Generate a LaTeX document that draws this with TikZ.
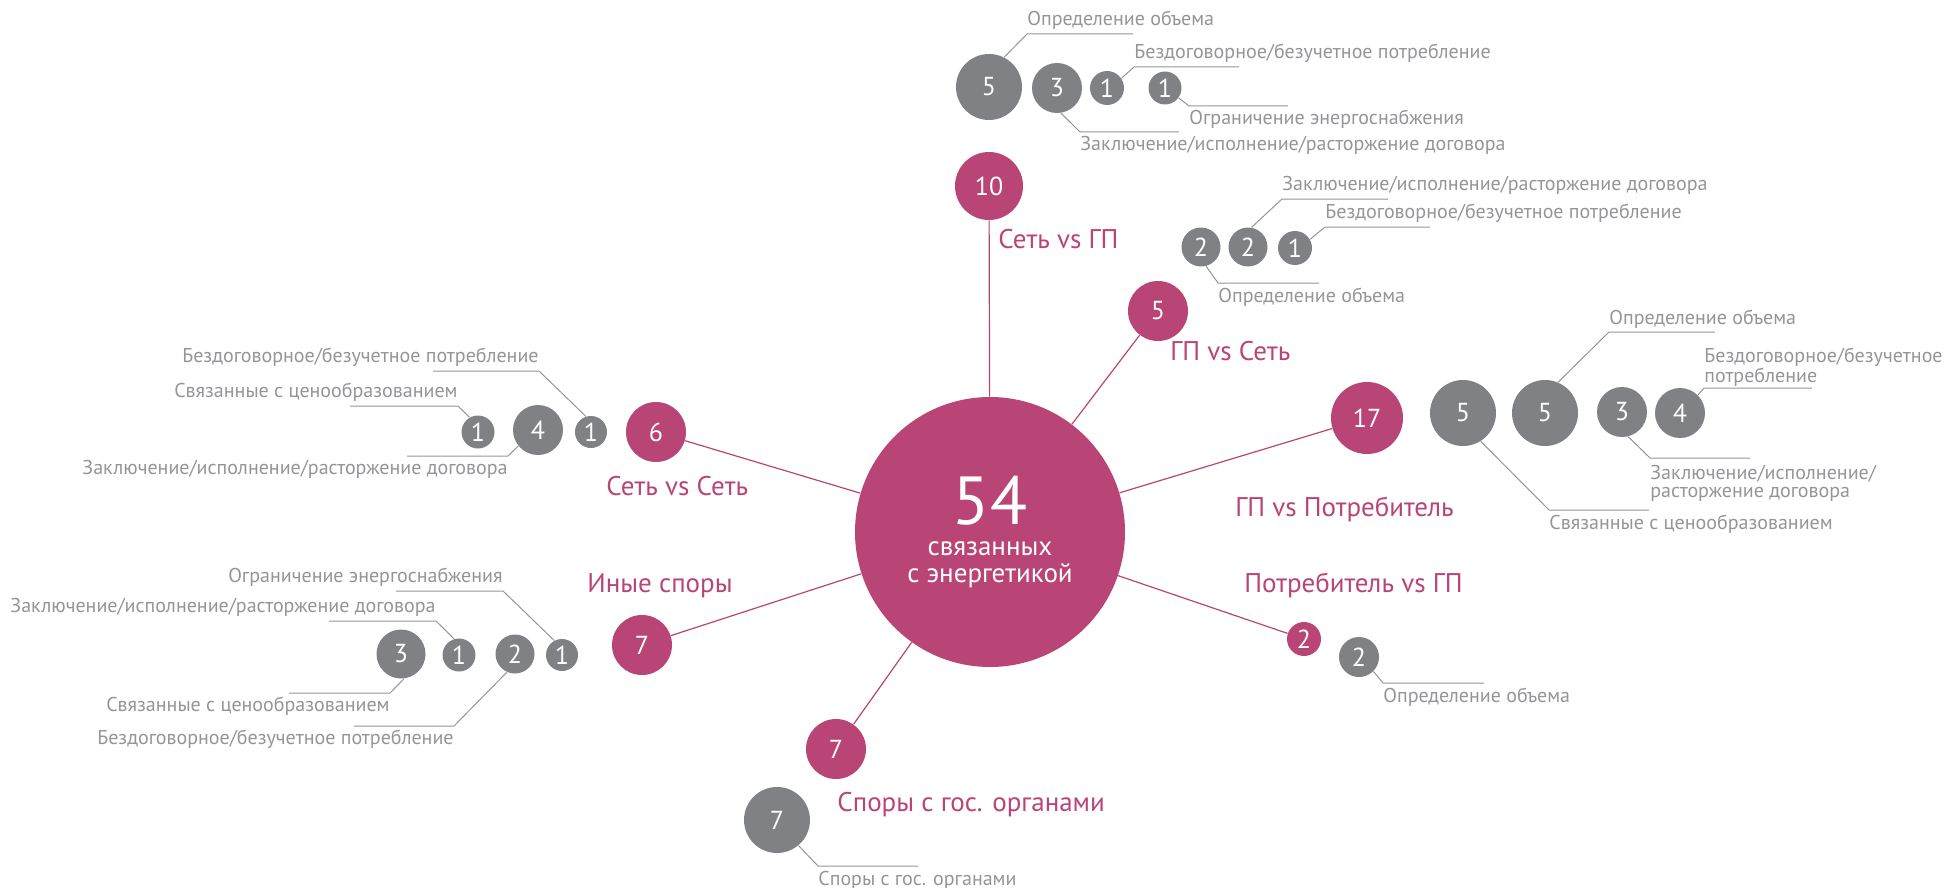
\documentclass[tikz,border=0pt]{standalone}
\usepackage{fontspec}
\setmainfont{PT Sans}
\usetikzlibrary{positioning}
\usetikzlibrary{calc}
\definecolor{rose}{HTML}{B94476}
\definecolor{slate}{HTML}{808184}
\definecolor{mist}{HTML}{939598}
\newcommand{\callout}[7]{%
  \path (#3,#4) coordinate (#1k) ++(#5,0) coordinate (#1e);
  \draw[leader] (#1.#2) -- (#1k) -- (#1e);
  \node[#6] (#1t) at (#1k) {#7};}
\tikzset{
    hub/.style = {circle,fill=rose,text=white,inner sep=0pt,minimum size=135pt,align=center,font=\fontsize{13.5}{11.25}\selectfont},
    topic/.style = {circle,fill=rose,text=white,inner sep=0pt,minimum size=#1,font=\fontsize{13}{13}\selectfont},
    part/.style = {circle,fill=slate,text=white,inner sep=0pt,minimum size=#1,font=\fontsize{13}{13}\selectfont},
    spoke/.style = {draw=rose,line width=0.6pt},
    leader/.style = {draw=mist,line width=0.5pt},
    caption/.style = {text=rose,inner sep=0pt,anchor=base west,font=\fontsize{13.5}{13.5}\selectfont},
    note/.style = {text=mist,inner sep=0pt,font=\fontsize{10}{8.7}\selectfont},
    noteup/.style = {note,anchor=base west,yshift=4pt},
    notedown/.style = {note,anchor=base west,yshift=-9.5pt},
    noteupl/.style = {note,anchor=base east,yshift=4.5pt},
    notedownl/.style = {note,anchor=base east,yshift=-9.25pt},
    noteuptwo/.style = {note,align=left,anchor=south west,yshift=0.5pt},
    notedowntwo/.style = {note,align=left,anchor=north west,yshift=-3.5pt}}
\begin{document}
\begin{tikzpicture}[x=0.5pt,y=-0.5pt]
    \useasboundingbox (0,0) rectangle (1944,888);
    % hub and topics
    \path (990,532) node[hub] (hub) {{\fontsize{34}{34}\selectfont 54}\\[4.5pt] связанных\\[2pt] с энергетикой};
    \path (989,186) node[topic=34pt] (t10) {10}
        (1158,311) node[topic=30pt] (t5) {5}
        (1367,418) node[topic=36pt] (t17) {17}
        (1304,639) node[topic=17pt] (t2) {2}
        (836,749) node[topic=30pt] (t7b) {7}
        (642,645) node[topic=30pt] (t7a) {7}
        (656,432) node[topic=30pt] (t6) {6};
    \foreach \t in {t10,t5,t17,t2,t7b,t7a,t6}
        \draw[spoke] (hub) -- (\t);
    \node[caption] (c10) at (998,249) {Сеть vs ГП};
    \node[caption] (c5) at (1170,360) {ГП vs Сеть};
    \node[caption] (c17) at (1235,516) {ГП vs Потребитель};
    \node[caption] (c2) at (1244,592) {Потребитель vs ГП};
    \node[caption] (c7b) at (837,811) {Споры с гос. органами};
    \node[caption] (c7a) at (587,592) {Иные споры};
    \node[caption] (c6) at (606,495) {Сеть vs Сеть};
    % parts
    \path (989,87) node[part=33pt] (a5) {5}
        (1057,88) node[part=25pt] (a3) {3}
        (1107,88) node[part=17pt] (a1) {1}
        (1165,88) node[part=16.5pt] (b1) {1};
    \path (1201,247) node[part=19.5pt] (c2) {2}
        (1248,247) node[part=19.5pt] (d2) {2}
        (1295,248) node[part=17pt] (d1) {1};
    \path (1463,413) node[part=33pt] (e5) {5}
        (1545,413) node[part=33pt] (f5) {5}
        (1622,412) node[part=25pt] (f3) {3}
        (1680,413) node[part=25pt] (f4) {4};
    \path (1359,657) node[part=20pt] (g2) {2};
    \path (777,820) node[part=33pt] (h7) {7};
    \path (591,432) node[part=16pt] (i1) {1}
        (538,430) node[part=25pt] (i4) {4}
        (478,432) node[part=16.5pt] (j1) {1};
    \path (562,655) node[part=16pt] (k1) {1}
        (515,654) node[part=19.5pt] (k2) {2}
        (459,655) node[part=16.5pt] (l1) {1}
        (401,654) node[part=24.5pt] (l3) {3};
    % callouts
    \callout{a5}{63}{1027}{34}{106}{noteup}{Определение объема}
    \callout{a3}{-81}{1080}{132}{99}{notedown}{Заключение/исполнение/расторжение договора}
    \callout{a1}{34}{1134}{67}{105}{noteup}{Бездоговорное/безучетное потребление}
    \callout{b1}{-36}{1189}{106}{99}{notedown}{Ограничение энергоснабжения}
    \callout{c2}{-75}{1218}{283}{101}{notedown}{Определение объема}
    \callout{d2}{80}{1282}{199}{106}{noteup}{Заключение/исполнение/расторжение договора}
    \callout{d1}{30}{1325}{227}{105}{noteup}{Бездоговорное/безучетное потребление}
    \callout{e5}{-58}{1549}{510}{100}{notedown}{Связанные с ценообразованием}
    \callout{f5}{67}{1609}{332}{106}{noteup}{Определение объема}
    \callout{f3}{-76}{1650}{458}{100}{notedowntwo}{Заключение/исполнение/\\расторжение договора}
    \callout{f4}{45}{1704}{388}{108}{noteuptwo}{Бездоговорное/безучетное\\потребление}
    \callout{g2}{-45}{1383}{683}{101}{notedown}{Определение объема}
    \callout{h7}{-50}{818}{866}{100}{notedown}{Споры с гос. органами}
    \callout{i1}{108}{539}{371}{-106}{noteupl}{Бездоговорное/безучетное потребление}
    \callout{i4}{219}{508}{456}{-101}{notedownl}{Заключение/исполнение/расторжение договора}
    \callout{j1}{120}{458}{406}{-108}{noteupl}{Связанные с ценообразованием}
    \callout{k1}{118}{503}{591}{-107}{noteupl}{Ограничение энергоснабжения}
    \callout{k2}{246}{454}{726}{-100}{notedownl}{Бездоговорное/безучетное потребление}
    \callout{l1}{107}{436}{621}{-107}{noteupl}{Заключение/исполнение/расторжение договора}
    \callout{l3}{-83}{390}{693}{-101}{notedownl}{Связанные с ценообразованием}
\end{tikzpicture}
\end{document}
